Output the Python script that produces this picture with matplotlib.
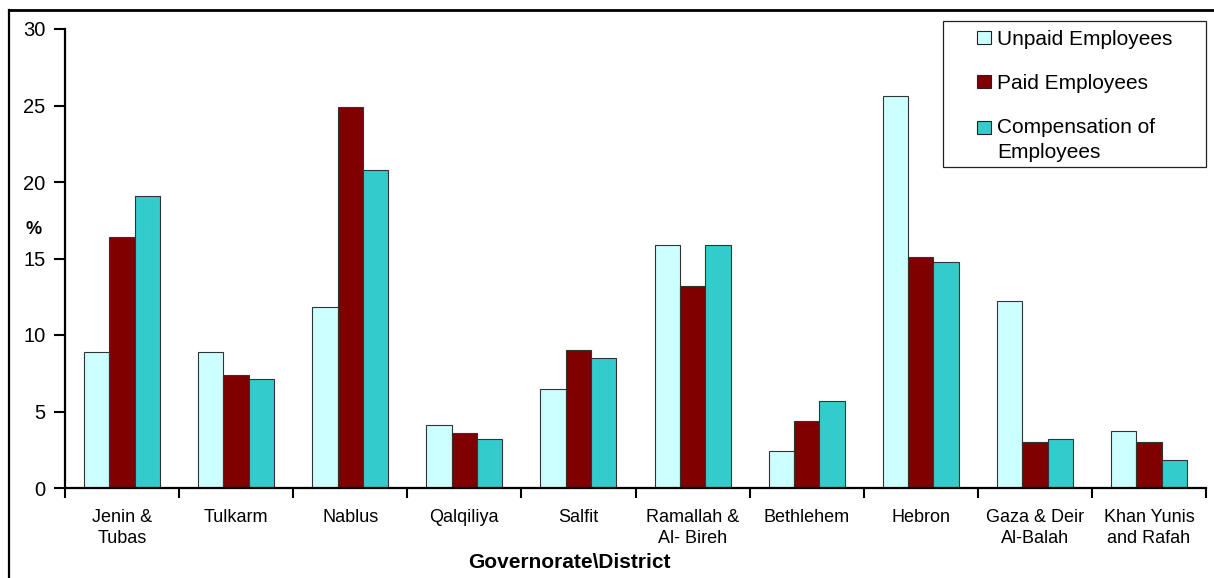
import numpy as np
import matplotlib
matplotlib.use('Agg')
from matplotlib import pyplot as plt
from matplotlib.lines import Line2D
from matplotlib.patches import Rectangle

plt.rcParams['font.family'] = ['Liberation Sans', 'DejaVu Sans']

# data
districts = ['Jenin &\nTubas', 'Tulkarm', 'Nablus', 'Qalqiliya', 'Salfit',
             'Ramallah &\nAl- Bireh', 'Bethlehem', 'Hebron',
             'Gaza & Deir\nAl-Balah', 'Khan Yunis\nand Rafah']
unpaid = [8.9, 8.9, 11.8, 4.1, 6.5, 15.9, 2.4, 25.6, 12.2, 3.7]
paid = [16.4, 7.4, 24.9, 3.6, 9.0, 13.2, 4.4, 15.1, 3.0, 3.0]
compensation = [19.1, 7.1, 20.8, 3.2, 8.5, 15.9, 5.7, 14.8, 3.2, 1.8]
series_names = ['Unpaid Employees', 'Paid Employees', 'Compensation of\nEmployees']
colors = ['#CCFFFF', '#800000', '#33CCCC']

W, H = 1214, 578
fig = plt.figure(figsize=(W/100, H/100), dpi=100)
ax = fig.add_axes([65/W, 1-488/H, 1141/W, (488-29)/H])

x = np.arange(len(districts))
w = 0.222
for i, (vals, name, c) in enumerate(zip([unpaid, paid, compensation], series_names, colors)):
    ax.bar(x + (i-1)*w, vals, w, color=c, edgecolor='#333333', linewidth=0.8, label=name)

ax.set_xlim(-0.5, len(districts)-0.5)
ax.set_ylim(0, 30)
ax.set_yticks(range(0, 31, 5))
ax.set_xticks(x)
ax.set_xticklabels(districts, fontsize=13, linespacing=1.3)
ax.set_xticks(np.arange(-0.5, len(districts)), minor=True)
ax.tick_params(axis='x', which='major', length=0, pad=15)
ax.tick_params(axis='x', which='minor', length=7, width=1.5, direction='out')
ax.tick_params(axis='y', length=8, width=1.5, direction='out', labelsize=14.5, pad=6)

for s in ['top', 'right']:
    ax.spines[s].set_visible(False)
for s in ['left', 'bottom']:
    ax.spines[s].set_linewidth(1.6)

fig.text(34/W, 1-229/H, '%', ha='center', va='center', fontsize=13, weight='bold')
fig.text(569/W, 1-563/H, 'Governorate\\District', ha='center', va='center',
         fontsize=15, weight='bold')

# legend, frame drawn separately
leg = ax.legend(loc='upper left', bbox_to_anchor=(977/W, 1-30/H),
                bbox_transform=fig.transFigure, fontsize=15, frameon=False,
                handlelength=0.67, handleheight=0.62, handletextpad=0.29,
                labelspacing=1.2, borderpad=0, borderaxespad=0)
for t in leg.get_texts():
    t.set_linespacing(1.4)
for hnd in leg.legend_handles:
    hnd.set_edgecolor('#222222')
leg.legend_handles[2].set_y(leg.legend_handles[2].get_y() + 9)
fig.add_artist(Rectangle((943/W, 1-167/H), (1206-943)/W, (167-21)/H,
                         transform=fig.transFigure, fill=False,
                         edgecolor='#222222', linewidth=0.9))

# outer chart frame (cut off at the right and bottom)
fig.add_artist(Line2D([9/W, 1.0], [1-10/H, 1-10/H], color='black', linewidth=2,
                      transform=fig.transFigure))
fig.add_artist(Line2D([9/W, 9/W], [0.0, 1-10/H], color='black', linewidth=1.6,
                      transform=fig.transFigure))

fig.savefig('out.png', dpi=100)
